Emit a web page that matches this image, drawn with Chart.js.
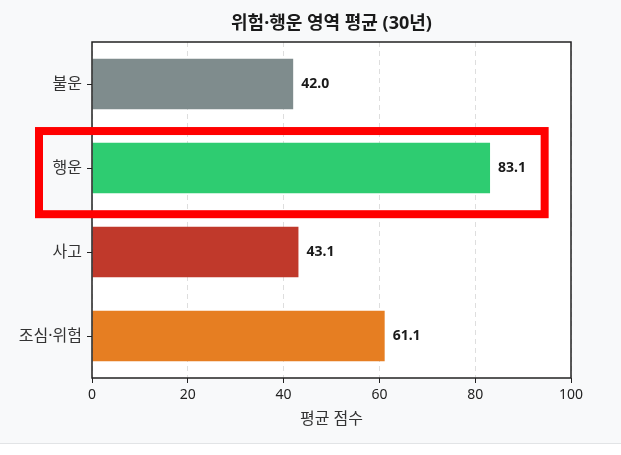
<!DOCTYPE html>
<html>
<head>
<meta charset="utf-8">
<script src="https://cdn.jsdelivr.net/npm/chart.js@4.4.1/dist/chart.umd.min.js"></script>
<style>
  html, body { margin: 0; padding: 0; background: #ffffff; }
  #bg { position: absolute; left: 0; top: 0; width: 621px; height: 443px; background: #f8f9fa; border-bottom: 1px solid #e2e4e6; }
  #wrap { position: absolute; left: 0; top: 0; width: 621px; height: 455px; }
</style>
</head>
<body>
<div id="bg"></div>
<div id="wrap"><canvas id="c" width="621" height="455"></canvas></div>
<script>
const chartTitle = '위험·행운 영역 평균 (30년)';
const categories = ['불운', '행운', '사고', '조심·위험'];
const averages = [42.0, 83.1, 43.1, 61.1];
const barColors = ['#7f8c8d', '#2ecc71', '#c0392b', '#e67e22'];
const xTicks = [0, 20, 40, 60, 80, 100];
const xAxisLabel = '평균 점수';
const highlightIndex = 1;

const FONT = "'Noto Sans', 'Noto Sans CJK KR', sans-serif";

const framePlugin = {
  id: 'frame',
  beforeDraw(chart) {
    const {ctx, chartArea: a} = chart;
    ctx.save();
    ctx.fillStyle = '#ffffff';
    ctx.fillRect(a.left, a.top, a.right - a.left, a.bottom - a.top);
    ctx.restore();
  },
  afterDraw(chart) {
    const {ctx, chartArea: a, scales} = chart;
    ctx.save();
    // frame
    ctx.strokeStyle = '#222';
    ctx.lineWidth = 1.5;
    ctx.strokeRect(a.left, a.top, a.right - a.left, a.bottom - a.top);
    // title
    ctx.fillStyle = '#1a1a1a';
    ctx.font = 'bold 18px ' + FONT;
    ctx.textAlign = 'center';
    ctx.textBaseline = 'middle';
    ctx.fillText(chartTitle, (a.left + a.right) / 2, 24);
    // value labels
    ctx.font = 'bold 14px ' + FONT;
    ctx.textAlign = 'left';
    const meta = chart.getDatasetMeta(0);
    meta.data.forEach((bar, i) => {
      ctx.fillText(averages[i].toFixed(1), bar.x + 8, bar.y);
    });
    // highlight box
    const y = scales.y;
    const step = y.getPixelForValue(1) - y.getPixelForValue(0);
    const cy = y.getPixelForValue(highlightIndex);
    const top = cy - step * 0.44;
    const bottom = cy + step * 0.55;
    const left = a.left - 53;
    const right = scales.x.getPixelForValue(94.5);
    ctx.strokeStyle = '#ff0000';
    ctx.lineWidth = 8;
    ctx.strokeRect(left, top, right - left, bottom - top);
    ctx.restore();
  }
};

new Chart(document.getElementById('c'), {
  type: 'bar',
  data: {
    labels: categories,
    datasets: [{
      data: averages,
      backgroundColor: barColors,
      borderWidth: 0,
      barPercentage: 0.6,
      categoryPercentage: 1.0
    }]
  },
  options: {
    indexAxis: 'y',
    responsive: false,
    animation: false,
    devicePixelRatio: 1,
    layout: { padding: { left: 0, right: 50, top: 42, bottom: 0 } },
    plugins: { legend: { display: false }, tooltip: { enabled: false }, title: { display: false } },
    scales: {
      x: {
        min: 0, max: 100,
        afterBuildTicks(scale) { scale.ticks = xTicks.map(v => ({ value: v })); },
        afterFit(scale) { scale.height = 77; },
        border: { display: false, dash: [5, 4] },
        grid: {
          color: 'rgba(0,0,0,0.13)',
          lineWidth: 1,
          drawTicks: true,
          tickLength: 5,
          tickColor: '#222',
          tickBorderDash: [],
          tickWidth: 1
        },
        ticks: { color: '#222', font: { family: FONT, size: 14 }, padding: 4, maxRotation: 0 },
        title: { display: true, text: xAxisLabel, color: '#333', font: { family: FONT, size: 16 }, padding: { top: 0, bottom: 26 } }
      },
      y: {
        afterFit(scale) { scale.width = 92; },
        border: { display: false },
        grid: {
          drawOnChartArea: false,
          offset: false,
          drawTicks: true,
          tickLength: 5,
          tickColor: '#222',
          tickWidth: 1
        },
        ticks: { color: '#333', font: { family: FONT, size: 16 }, padding: 5 }
      }
    }
  },
  plugins: [framePlugin]
});
</script>
</body>
</html>
